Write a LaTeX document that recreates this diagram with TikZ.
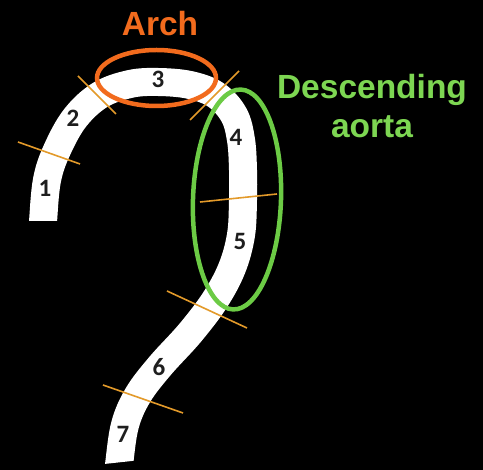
\documentclass[tikz,border=0pt]{standalone}
\usepackage{fontspec}
\setmainfont{Liberation Sans}
\newfontfamily\numfont{Carlito}
\definecolor{archorange}{HTML}{F26B1D}
\definecolor{cutamber}{HTML}{E39A2A}
\definecolor{descgreen}{HTML}{6CCB45}
\definecolor{labelgreen}{HTML}{7DD652}
\definecolor{digitgray}{HTML}{1E1E1E}
\begin{document}
\begin{tikzpicture}[x=1pt,y=-1pt,
  vessel/.style={white,line width=28pt},
  cutline/.style={cutamber,line width=1.6pt},
  segnum/.style={text=digitgray,font=\numfont\bfseries\fontsize{25}{25}\selectfont,inner sep=0pt},
  regionring/.style={line width=4.5pt},
  regionlabel/.style={font=\bfseries\fontsize{33.5}{33.5}\selectfont,inner sep=0pt,anchor=base}]
\fill[black] (0,0) rectangle (483,470);
\useasboundingbox (0,0) rectangle (483,470);

% the aorta as one thick band, its two ends cut straight across
\begin{scope}
  \clip (0,0) -- (483,0) -- (483,459) -- (150,459) -- (95,465) -- (95,221) -- (0,221) -- cycle;
  \draw[vessel] plot[smooth,tension=0.6] coordinates {
    (42,245) (43,222) (47,180) (57,150) (75,118) (100,95) (130,84) (158,82)
    (190,85) (216,95) (234,115) (241,140) (243,170) (243,200) (241,235)
    (232,268) (215,300) (190,333) (160,366) (138,395) (125,425) (119,465) (117,485)};
\end{scope}

% segment boundaries
\draw[cutline] (18,142) -- (80,164);
\draw[cutline] (78,76) -- (116,114);
\draw[cutline] (239,71) -- (190,120);
\draw[cutline] (200,202) -- (277,194);
\draw[cutline] (167,291) -- (247,328);
\draw[cutline] (103,385) -- (183,413);

% segment numbers
\node[segnum] (n1) at (45,188) {1};
\node[segnum] (n2) at (73,118) {2};
\node[segnum] (n3) at (158,79) {3};
\node[segnum] (n4) at (236,137) {4};
\node[segnum] (n5) at (240,241) {5};
\node[segnum] (n6) at (159,367) {6};
\node[segnum] (n7) at (123,434) {7};

% regions
\draw[regionring,archorange] (156.5,78) ellipse [x radius=59.5pt,y radius=28pt];
\draw[regionring,descgreen,rotate around={-2:(237,199.5)}] (237,199.5) ellipse [x radius=44pt,y radius=110pt];

\node[regionlabel,text=archorange] (arch) at (160,36) {Arch};
\node[regionlabel,text=labelgreen] (desc1) at (372,99) {Descending};
\node[regionlabel,text=labelgreen] (desc2) at (372,138) {aorta};
\end{tikzpicture}
\end{document}
